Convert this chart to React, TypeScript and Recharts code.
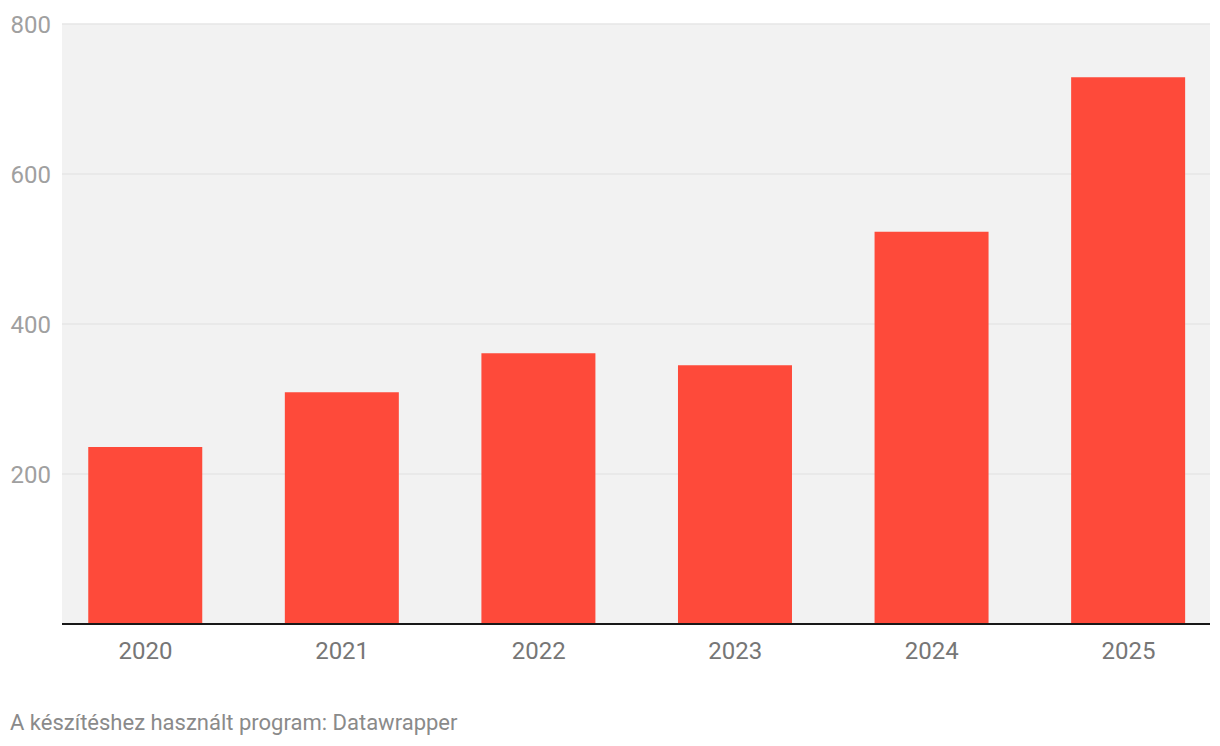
import { BarChart, Bar, XAxis, YAxis, CartesianGrid } from 'recharts';

const years = ['2020', '2021', '2022', '2023', '2024', '2025'];
const values = [236, 309, 361, 345, 523, 729];
const yTicks = [200, 400, 600, 800];

const data = years.map((year, i) => ({ idx: i, year, value: values[i] }));

const font = 'Roboto, "Noto Sans", sans-serif';

export default function App() {
  return (
    <div style={{ position: 'absolute', left: 0, top: 0, width: 1220, height: 746, background: '#fff', fontFamily: font }}>
      <BarChart
        width={1220}
        height={680}
        data={data}
        margin={{ top: 24, right: 10, bottom: 0, left: 0 }}
      >
        <CartesianGrid
          vertical={false}
          fill="#f2f2f2"
          stroke="#e6e6e6"
          strokeWidth={1.5}
        />
        <YAxis
          width={62}
          domain={[0, 800]}
          ticks={yTicks}
          axisLine={false}
          tickLine={false}
          tickSize={0}
          tickMargin={11}
          tick={{ fontSize: 24, fill: '#a0a0a0', fontFamily: font }}
        />
        <Bar dataKey="value" fill="#fe4a3a" barSize={114} isAnimationActive={false} />
        <XAxis
          type="number"
          dataKey="idx"
          height={56}
          domain={[-0.425, 5.415]}
          ticks={years.map((_, i) => i)}
          tickFormatter={(i: number) => years[i]}
          axisLine={{ stroke: '#181818', strokeWidth: 2 }}
          tickLine={false}
          tickSize={0}
          tickMargin={18}
          tick={{ fontSize: 24, fill: '#767676', fontFamily: font }}
        />
      </BarChart>
      <div
        style={{
          position: 'absolute',
          left: 10,
          top: 712,
          fontSize: 22,
          lineHeight: '22px',
          color: '#8a8a8a',
          whiteSpace: 'nowrap',
        }}
      >
        A készítéshez használt program: Datawrapper
      </div>
    </div>
  );
}
